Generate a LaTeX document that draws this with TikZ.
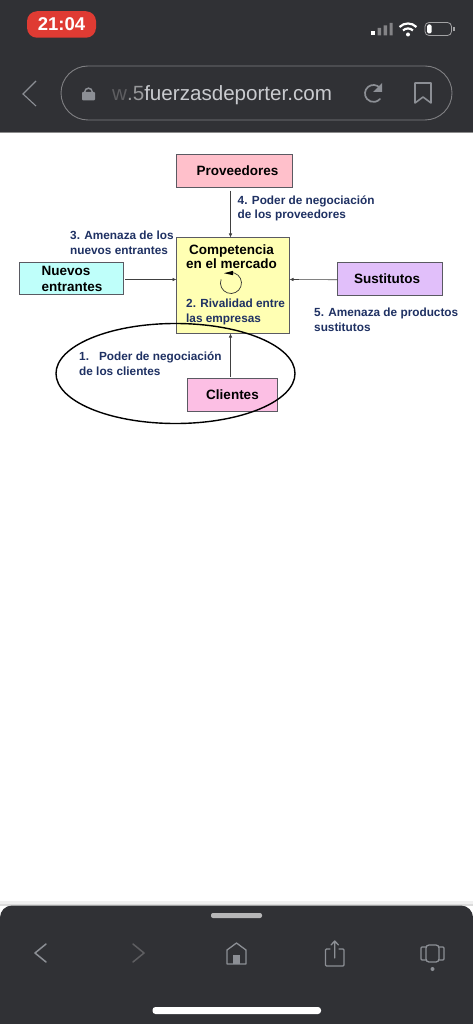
\documentclass[tikz,border=0pt]{standalone}
\usepackage{fontspec}
\setmainfont{Liberation Sans}
\usepackage{tikz}
\usetikzlibrary{arrows.meta,positioning,shapes.geometric,calc}
\definecolor{barbg}{HTML}{303135}
\definecolor{navytxt}{HTML}{1F3163}
\definecolor{iconcol}{HTML}{8C8F95}
\definecolor{urlcol}{HTML}{C9CBCF}
\definecolor{edgecol}{HTML}{5A5A62}
\begin{document}
\begin{tikzpicture}[
  x=1pt,y=-1pt,
  force/.style={draw=edgecol, line width=0.7pt, anchor=north west, inner sep=0pt, outer sep=0pt, align=center, font=\fontsize{13.5}{15}\selectfont\bfseries},
  lbl/.style={anchor=west, align=left, inner sep=0pt, text=navytxt, font=\fontsize{11.8}{14.6}\selectfont\bfseries},
  arr/.style={-{Latex[length=4pt,width=3.5pt]}, line width=0.6pt, draw=black!75},
  icon/.style={draw=iconcol, line width=1.4pt, line cap=round, line join=round}
]
\useasboundingbox (0,0) rectangle (473,1024);
\fill[white] (0,0) rectangle (473,1024);
% top bar
\fill[barbg] (0,0) rectangle (473,132);
\fill[black!45] (0,132) rectangle (473,133);
\node[fill={rgb,255:red,223;green,59;blue,51}, rounded corners=10pt, minimum width=69pt, minimum height=26.5pt, inner sep=0pt, outer sep=0pt, text=white, font=\fontsize{18.5}{19}\selectfont\bfseries] (clock) at (61.5,24.5) {21:04};
\fill[white] (371,31) rectangle (375,35.5);
\fill[white!40!barbg] (377.5,28) rectangle (381,35.5) (383.5,25.5) rectangle (387,35.5) (389.5,23) rectangle (392.5,35.5);
\draw[white, line width=2.2pt] (399.5,27) arc[start angle=-135, end angle=-45, radius=12] (403,30.5) arc[start angle=-135, end angle=-45, radius=7];
\fill[white] (408,34.5) circle (2);
\draw[white!55!barbg, line width=0.8pt, rounded corners=4pt] (425,22.5) rectangle (451.5,35.5);
\fill[white, rounded corners=1.5pt] (427,24.5) rectangle (431.5,33.5);
\fill[white!55!barbg] (453,27.5) rectangle (454.5,31);
\draw[iconcol, line width=1.1pt] (36,81) -- (23,94) -- (36,106);
\draw[white!38!barbg, line width=0.9pt, rounded corners=27pt] (61,66) rectangle (452,120);
\fill[iconcol, rounded corners=1pt] (82,92) rectangle (95,100.5);
\draw[iconcol, line width=1.5pt] (84.7,92) arc[start angle=180, end angle=360, radius=3.8];
\node[anchor=base west, inner sep=0pt, text=urlcol, font=\fontsize{20.6}{22}\selectfont] (url) at (112,100.5) {\textcolor{white!22!barbg}{w}\textcolor{white!50!barbg}{.5}fuerzasdeporter.com};
\draw[icon, line width=1.7pt] (380,88) arc[start angle=-40, end angle=-320, radius=8.5];
\fill[iconcol] (382,83) -- (382,92) -- (373,92) -- cycle;
\draw[icon, line width=1.6pt] (415,83) -- (431,83) -- (431,103) -- (423,97) -- (415,103) -- cycle;
% diagrama
\node[force, fill={rgb,255:red,255;green,192;blue,203}, minimum width=116pt, minimum height=32.5pt] (prov) at (176.5,154.5) {\hspace{6pt}Proveedores};
\node[force, fill={rgb,255:red,255;green,255;blue,179}, minimum width=113pt, minimum height=96pt] (comp) at (176.5,237.5) {};
\node[force, fill={rgb,255:red,191;green,255;blue,250}, minimum width=104pt, minimum height=32pt] (nuevos) at (19.5,262.5) {};
\node[force, fill={rgb,255:red,225;green,191;blue,250}, minimum width=105pt, minimum height=32.5pt] (sust) at (337.5,262.5) {Sustitutos\hspace{6pt}};
\node[force, fill={rgb,255:red,252;green,191;blue,228}, minimum width=90pt, minimum height=32.5pt] (cli) at (187.5,378.5) {Clientes};
\node[anchor=west, align=left, inner sep=0pt, font=\fontsize{13.5}{16}\selectfont\bfseries] (nuevost) at (41.5,278.5) {Nuevos\\entrantes};
\node[anchor=north, align=center, inner sep=0pt, font=\fontsize{13.5}{13.5}\selectfont\bfseries] (compt) at (231.5,245) {Competencia\\en el mercado};
\node[lbl] (l4) at (237.5,208.5) {4. Poder de negociación\\de los proveedores};
\node[lbl] (l3) at (70,242.5) {3. Amenaza de los\\nuevos entrantes};
\node[lbl] (l2) at (186,312) {2. Rivalidad entre\\las empresas};
\node[lbl] (l5) at (314,319.5) {5. Amenaza de productos\\sustitutos};
\node[lbl] (l1) at (79,364) {1.\hspace{10pt}Poder de negociación\\de los clientes};
\draw[arr] ([xshift=-4pt,yshift=-4pt]prov.south) -- ([xshift=-2.5pt]comp.north);
\draw[arr] ([xshift=1.5pt,yshift=-1pt]nuevos.east) -- ([yshift=6pt]comp.west);
\draw[arr] ([yshift=-1pt]sust.west) -- ([yshift=6pt]comp.east);
\draw[arr] ([xshift=-2pt,yshift=2pt]cli.north) -- ([xshift=-2.5pt]comp.south);
\draw[black!80, line width=0.7pt] (221.1,279.4) arc[start angle=200, end angle=-100, radius=10.5];
\fill[black] (224,273.2) -- (233,270.8) -- (233,275.2) -- cycle;
\node[draw=black, line width=1.4pt, ellipse, minimum width=239pt, minimum height=100pt, inner sep=0pt] (oval) at (175.5,373.5) {};
% bottom bar
\fill[black!6] (0,901) rectangle (473,904);
\fill[black!14] (0,904) rectangle (473,906);
\fill[barbg, rounded corners=12pt] (0,905.5) rectangle (473,1040);
\fill[white!65!barbg, rounded corners=2pt] (211,913) rectangle (262,918);
\draw[icon, line width=1.5pt] (46,944) -- (35,953) -- (46,962);
\draw[icon, line width=1.5pt, draw=white!22!barbg] (133,944) -- (144,953) -- (133,962);
\draw[icon, line width=1.3pt] (227,964) -- (227,950) -- (236.5,943) -- (246,950) -- (246,964) -- cycle;
\fill[iconcol] (233,955) rectangle (240,964);
\draw[icon, line width=1.3pt, rounded corners=1pt] (330,949) -- (325.5,949) -- (325.5,966) -- (344,966) -- (344,949) -- (339,949);
\draw[icon, line width=1.3pt] (334.7,958) -- (334.7,941) (331,945) -- (334.7,941) -- (338.5,945);
\draw[icon, line width=1.3pt, rounded corners=3pt] (426,945) rectangle (439,962);
\draw[icon, line width=1.3pt, rounded corners=1pt] (426,947) -- (421,947) -- (421,960) -- (426,960) (439,947) -- (444,947) -- (444,960) -- (439,960);
\fill[iconcol] (432.5,969) circle (2);
\fill[white, rounded corners=3pt] (152.5,1007) rectangle (321,1014);
\end{tikzpicture}
\end{document}
